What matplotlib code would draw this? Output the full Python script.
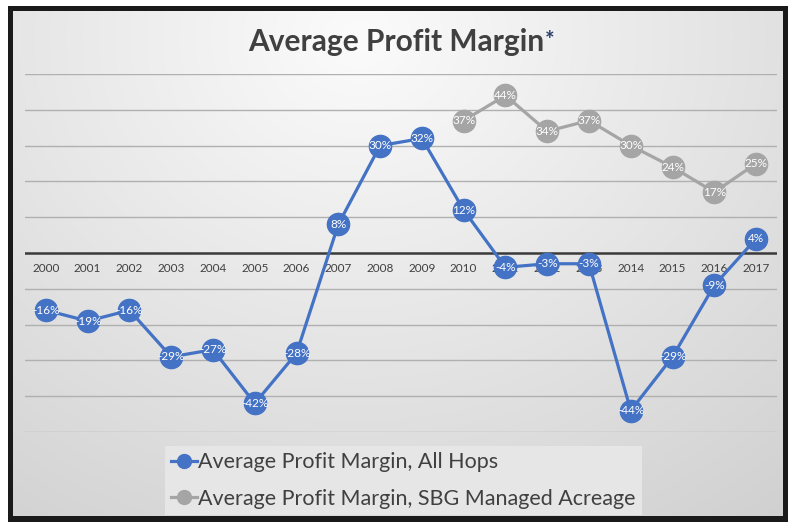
import numpy as np
import matplotlib
matplotlib.use("Agg")
import matplotlib.pyplot as plt
from matplotlib.patches import Rectangle
from matplotlib.lines import Line2D

years = [str(y) for y in range(2000, 2018)]
all_hops = [-16, -19, -16, -29, -27, -42, -28, 8, 30, 32, 12, -4, -3, -3, -44, -29, -9, 4]
sbg_years = ["2010", "2011", "2012", "2013", "2014", "2015", "2016", "2017"]
sbg_vals = [37, 44, 34, 37, 30, 24, 17, 25]
title = "Average Profit Margin"
legend_labels = ["Average Profit Margin, All Hops", "Average Profit Margin, SBG Managed Acreage"]

BLUE = "#4472C4"
GRAY = "#A5A5A5"
TXT = "#404040"
FONT = "Lato"

W, H = 794, 525
fig = plt.figure(figsize=(W / 100, H / 100), dpi=100)
fig.patch.set_facecolor("white")

# background frame + gradient
bg = fig.add_axes([0, 0, 1, 1])
bg.set_xlim(0, W)
bg.set_ylim(H, 0)
bg.axis("off")
bg.add_patch(Rectangle((8, 6), 780, 516, facecolor="#1a1a1a", edgecolor="none"))
nx, ny = 400, 260
xx, yy = np.meshgrid(np.linspace(0, 1, nx), np.linspace(0, 1, ny))
d = np.sqrt(((xx - 0.45) / 0.75) ** 2 + ((yy - 0.05) / 1.0) ** 2)
v = np.clip(0.985 - 0.14 * d, 0, 1)
img = np.dstack([v, v, v])
bg.imshow(img, extent=(13, 783, 516, 11), aspect="auto", interpolation="bilinear", zorder=1)

# main axes
ax = fig.add_axes([25 / W, (H - 432) / H, 752 / W, 358 / H])
ax.patch.set_alpha(0)
ax.set_xlim(-0.5, len(years) - 0.5)
ax.set_ylim(-50, 50)
for s in ax.spines.values():
    s.set_visible(False)
ax.set_xticks([])
ax.set_yticks([])
for g in range(-50, 51, 10):
    if g == 0:
        continue
    ax.axhline(g, color="#b0b0b0", lw=1.0, zorder=1)
ax.axhline(0, color="#3a3a3a", lw=1.8, zorder=2)

xpos = np.arange(len(years))
for i, y in enumerate(years):
    ax.annotate(y, (i, 0), xytext=(0, -11), textcoords="offset points",
                ha="center", va="center", fontsize=8.5, color=TXT, family=FONT, zorder=3)

sx = [years.index(y) for y in sbg_years]
ax.plot(sx, sbg_vals, color=GRAY, lw=2.3, marker="o", ms=16, mec=GRAY, mfc=GRAY, zorder=4)
for x, v_ in zip(sx, sbg_vals):
    ax.text(x, v_, f"{v_}%", ha="center", va="center", color="white", fontsize=8.5, family=FONT, zorder=6)

ax.plot(xpos, all_hops, color=BLUE, lw=2.3, marker="o", ms=16, mec=BLUE, mfc=BLUE, zorder=5)
for x, v_ in zip(xpos, all_hops):
    ax.text(x, v_, f"{v_}%", ha="center", va="center", color="white", fontsize=8.5, family=FONT, zorder=7)

# title
t = fig.text(396 / W, (H - 42) / H, title, ha="center", va="center", fontsize=21.5,
             fontweight="bold", color=TXT, family=FONT)
fig.canvas.draw()
ext = t.get_window_extent()
fig.text((ext.x1 + 1) / W, (H - 41) / H, "*", ha="left", va="center", fontsize=16,
         fontweight="bold", color="#2a3f66", family=FONT)

# legend
handles = [Line2D([], [], color=BLUE, lw=2.3, marker="o", ms=10),
           Line2D([], [], color=GRAY, lw=2.3, marker="o", ms=10)]
leg = fig.legend(handles, legend_labels, loc="upper left",
                 bbox_to_anchor=(165 / W, (H - 446) / H), frameon=True,
                 handlelength=1.2, handletextpad=0.05,
                 borderpad=0.3, labelspacing=0.75, borderaxespad=0,
                 prop={"family": FONT, "size": 15.5})
leg.get_frame().set_facecolor("#e6e6e6")
leg.get_frame().set_edgecolor("none")
leg.get_frame().set_alpha(1)
leg.get_frame().set_boxstyle("square", pad=0)
for txt in leg.get_texts():
    txt.set_color(TXT)

fig.savefig("out.png", dpi=100)
